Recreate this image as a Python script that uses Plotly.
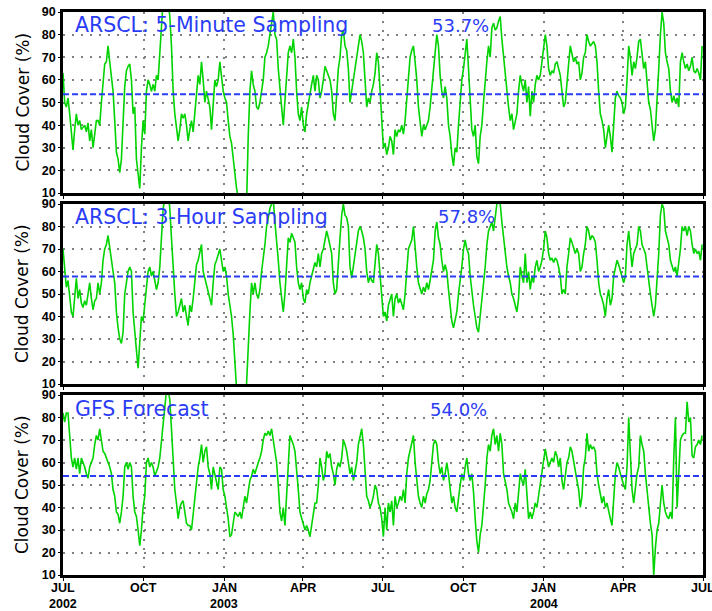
import pandas as pd
import plotly.graph_objects as go

# ---------------- data ----------------
titles = ["ARSCL: 5-Minute Sampling", "ARSCL: 3-Hour Sampling", "GFS Forecast"]
mean_labels = ["53.7%", "57.8%", "54.0%"]
mean_values = [53.7, 57.8, 54.0]

start_date = "2002-07-01"
end_date = "2004-06-30"

arscl_5min = [
    63, 50, 48, 52, 45, 35, 29, 38, 45, 40,
    42, 38, 39, 40, 37, 41, 33, 38, 30, 37,
    42, 42, 40, 50, 60, 67, 68, 75, 68, 62,
    55, 42, 28, 25, 19, 25, 45, 57, 64, 66,
    67, 60, 45, 48, 25, 18, 12, 30, 42, 36,
    55, 60, 58, 55, 58, 55, 62, 60, 72, 85,
    95, 98, 98, 95, 88, 75, 55, 45, 38, 33,
    38, 45, 43, 45, 40, 33, 38, 42, 37, 45,
    55, 62, 58, 68, 60, 50, 55, 52, 48, 38,
    50, 60, 57, 60, 68, 60, 55, 52, 50, 42,
    35, 32, 25, 18, 12, 8, 5, 5, 5, 5,
    5, 35, 55, 64, 58, 55, 48, 47, 50, 55,
    60, 70, 72, 75, 80, 85, 90, 80, 78, 65,
    55, 48, 40, 50, 60, 72, 75, 72, 78, 70,
    55, 45, 42, 48, 40, 37, 45, 50, 55, 58,
    62, 55, 62, 60, 52, 55, 60, 66, 64, 62,
    60, 55, 45, 42, 55, 65, 70, 80, 82, 75,
    73, 65,
    50, 55, 60, 65, 70, 75, 80, 77, 72, 60,
    48, 52, 50, 55, 58, 63, 72, 68, 55, 42,
    30, 32, 27, 30, 35, 33, 27, 38, 35, 38,
    37, 40, 36, 42, 52, 60, 70, 73, 75, 68,
    60, 48, 42, 35, 40, 38, 40, 42, 48, 57,
    65, 75, 80, 75, 62, 55, 52, 57, 52, 40,
    35, 27, 22, 30, 28, 40, 50, 60, 65, 72,
    78, 65, 50, 38, 35, 40, 26, 23, 35, 40,
    50, 60, 68, 75, 70, 83, 85, 82, 83, 86,
    88, 78, 70, 65, 55, 48, 42, 45, 38, 42,
    45, 55, 62, 58, 55, 60, 50, 57, 44, 55,
    50, 58, 62, 60, 62, 68, 75, 80, 75, 65,
    62, 64, 63, 67, 68, 65, 62, 55, 48, 50,
    60, 67, 75, 72, 68, 70, 67, 68, 60, 63,
    70, 72, 80, 77, 75, 76, 77, 75, 68, 55,
    45, 42, 38, 30, 35, 40, 35, 28, 40, 52,
    55, 53, 52, 50, 45, 48, 60, 75, 70, 62,
    68, 65, 70, 77, 78, 72, 65, 68, 60, 50,
    47, 40, 33, 38, 50, 65, 80, 90, 85, 72,
    68, 65, 55, 50, 53, 50, 52, 48, 68, 72,
    68, 65, 67, 64, 66, 70, 64, 63, 65, 63,
    60, 75,
]

arscl_3hr = [
    70, 62, 53, 56, 50, 42, 40, 50, 57, 48,
    52, 46, 44, 47, 45, 50, 55, 48, 43, 47,
    48, 55, 50, 55, 65, 70, 72, 76, 70, 66,
    60, 55, 42, 35, 30, 28, 33, 50, 55, 60,
    62, 60, 42, 35, 25, 17, 30, 40, 38, 45,
    55, 60, 62, 58, 60, 55, 52, 55, 62, 75,
    88, 92, 96, 96, 88, 75, 60, 50, 40, 42,
    45, 48, 42, 45, 40, 36, 45, 42, 48, 55,
    63, 65, 68, 72, 60, 57, 55, 52, 48, 45,
    55, 63, 65, 68, 70, 65, 60, 62, 58, 50,
    45, 40, 32, 20, 8, 5, 5, 5, 5, 5,
    10, 30, 42, 55, 50, 55, 50, 48, 52, 60,
    65, 72, 80, 85, 88, 90, 92, 82, 75, 65,
    55, 48, 42, 50, 65, 75, 73, 77, 75, 73,
    62, 55, 52, 55, 48, 46, 52, 50, 55, 58,
    62, 64, 62, 68, 62, 68, 70, 75, 78, 75,
    72, 68, 55, 50, 52, 65, 75, 85, 90, 85,
    84, 80,
    62, 57, 62, 67, 73, 78, 80, 78, 75, 70,
    60, 55, 58, 56, 55, 63, 72, 68, 58, 50,
    40, 42, 38, 45, 48, 50, 40, 48, 50, 46,
    48, 45, 43, 50, 60, 70, 72, 74, 80, 70,
    62, 55, 52, 50, 53, 51, 55, 52, 56, 60,
    65, 78, 82, 75, 72, 65, 60, 63, 60, 52,
    45, 38, 35, 38, 42, 50, 55, 62, 70, 74,
    70, 68, 58, 50, 45, 40, 35, 33, 40, 48,
    55, 62, 72, 78, 80, 82, 78, 85, 90, 92,
    90, 82, 75, 70, 62, 58, 55, 50, 48, 45,
    42, 48, 62, 58, 55, 68, 55, 60, 52, 58,
    55, 62, 65, 60, 62, 65, 70, 78, 75, 68,
    65, 66, 64, 66, 65, 62, 58, 50, 52, 50,
    62, 68, 75, 73, 70, 68, 70, 68, 60, 62,
    68, 72, 80, 78, 74, 76, 75, 73, 65, 55,
    50, 48, 45, 40, 48, 52, 45, 48, 58, 62,
    65, 63, 60, 58, 55, 58, 72, 78, 70, 62,
    68, 70, 72, 80, 78, 72, 70, 68, 62, 55,
    50, 45, 40, 45, 55, 68, 85, 90, 88, 78,
    75, 72, 65, 62, 60, 62, 58, 64, 70, 80,
    78, 80, 76, 80, 78, 72, 68, 70, 68, 69,
    65, 72,
]

gfs_forecast = [
    82, 78, 82, 82, 72, 62, 58, 62, 57, 62,
    55, 62, 60, 58, 55, 53, 58, 60, 62, 68,
    72, 70, 75, 70, 65, 64, 62, 60, 58, 55,
    48, 45, 38, 37, 33, 38, 45, 58, 60, 57,
    60, 58, 45, 38, 36, 30, 23, 30, 40, 45,
    60, 62, 58, 60, 58, 54, 56, 58, 62, 70,
    78, 85, 92, 92, 88, 75, 60, 48, 42, 35,
    40, 42, 43, 38, 33, 32, 32, 30, 37, 45,
    50, 58, 62, 68, 60, 65, 67, 58, 55, 48,
    58, 55, 52, 48, 58, 57, 48, 45, 40, 35,
    27, 28, 33, 38, 37, 36, 38, 35, 40, 45,
    42, 48, 52, 54, 57, 55, 58, 60, 62, 65,
    70, 73, 72, 74, 72, 75, 70, 65, 60, 50,
    38, 34, 40, 32, 45, 60, 72, 70, 68, 65,
    58, 48, 38, 35, 33, 30, 32, 30, 27, 32,
    35, 42, 42, 50, 62, 58, 52, 55, 65, 62,
    64, 58, 55, 50, 57, 60, 58, 62, 70, 68,
    65, 60,
    55, 58, 52, 56, 60, 68, 72, 75, 68, 58,
    45, 43, 40, 42, 45, 50, 48, 42, 40, 35,
    27, 40, 30, 42, 38, 43, 32, 45, 40, 42,
    45, 43, 48, 42, 55, 62, 65, 68, 72, 60,
    52, 45, 42, 40, 45, 42, 46, 48, 52, 62,
    68, 70, 68, 60, 55, 58, 52, 55, 60, 55,
    48, 42, 45, 40, 38, 45, 50, 55, 52, 58,
    62, 55, 52, 55, 47, 35, 25, 20, 28, 32,
    40, 50, 62, 68, 65, 72, 75, 68, 72, 65,
    73, 68, 55, 52, 48, 42, 40, 38, 35, 42,
    38, 48, 55, 52, 50, 57, 45, 35, 38, 35,
    38, 42, 40, 45, 50, 55, 62, 66, 62, 58,
    60, 62, 60, 65, 63, 58, 62, 52, 48, 55,
    60, 62, 67, 65, 60, 55, 52, 48, 40, 45,
    58, 62, 73, 65, 68, 66, 67, 65, 55, 50,
    45, 42, 45, 40, 42, 38, 35, 32, 45, 55,
    60, 58, 55, 52, 50, 48, 58, 80, 65, 48,
    42, 50, 55, 58, 72, 68, 65, 55, 48, 38,
    33, 28, 10, 22, 30, 33, 42, 50, 42, 38,
    36, 35, 38, 35, 62, 80, 40, 55, 70, 72,
    73, 73, 87, 78, 80, 63, 62, 67, 68, 70,
    68, 72,
]

series = [arscl_5min, arscl_3hr, gfs_forecast]

x_tick_dates = ["2002-07-01", "2002-10-01", "2003-01-01", "2003-04-01", "2003-07-01",
                "2003-10-01", "2004-01-01", "2004-04-01", "2004-07-01"]
x_month_text = ["JUL", "OCT", "JAN", "APR", "JUL", "OCT", "JAN", "APR", "JUL"]
x_year_text = ["2002", "", "2003", "", "", "", "2004", "", ""]
y_ticks = [10, 20, 30, 40, 50, 60, 70, 80, 90]

# ---------------- layout geometry ----------------
W, H = 712, 611
ML, MR, MT, MB = 63, 9, 12, 36
ph = H - MT - MB
panels_px = [(12, 193), (204, 384), (395, 575)]  # top, bottom in px
domains = [[(H - MB - b) / ph, (H - MB - t) / ph] for t, b in panels_px]
domains = [[max(0, d[0]), min(1, d[1])] for d in domains]

GREEN = "#00d400"
BLUE = "#2a3cf5"
TICKFONT = dict(family="Liberation Sans", size=12.5, color="black", weight="bold")

fig = go.Figure()
for i, vals in enumerate(series):
    n = i + 1
    xa = "x" if n == 1 else f"x{n}"
    ya = "y" if n == 1 else f"y{n}"
    dates = pd.date_range(start_date, end_date, periods=len(vals))
    fig.add_trace(go.Scatter(x=dates, y=vals, mode="lines",
                             line=dict(color=GREEN, width=1.6),
                             xaxis=xa, yaxis=ya, showlegend=False,
                             hoverinfo="skip"))
    fig.add_trace(go.Scatter(x=[pd.Timestamp("2002-07-01"), pd.Timestamp("2004-07-01")],
                             y=[mean_values[i]] * 2, mode="lines",
                             line=dict(color=BLUE, width=2, dash="6px,3px"),
                             xaxis=xa, yaxis=ya, showlegend=False,
                             hoverinfo="skip"))

    xkey = "xaxis" if n == 1 else f"xaxis{n}"
    ykey = "yaxis" if n == 1 else f"yaxis{n}"
    fig.layout[xkey] = dict(
        domain=[0, 1], anchor=ya, type="date",
        range=["2002-07-01", "2004-07-01"],
        tickvals=x_tick_dates, showticklabels=False,
        ticks="outside", ticklen=3, tickcolor="black",
        showgrid=True, gridcolor="#808080", gridwidth=1.5, griddash="2px,7px",
        showline=True, linecolor="black", linewidth=2.5, mirror=True,
        zeroline=False, automargin=False, fixedrange=True,
    )
    fig.layout[ykey] = dict(
        domain=domains[i], anchor=xa,
        range=[10, 90], tickvals=y_ticks,
        tickfont=TICKFONT,
        ticks="outside", ticklen=2, tickcolor="black",
        showgrid=True, gridcolor="#808080", gridwidth=1.5, griddash="2px,7px",
        showline=True, linecolor="black", linewidth=2.5, mirror=True,
        zeroline=False, automargin=False, fixedrange=True,
    )

    t_px, b_px = panels_px[i]
    title_cy = [25, 217, 409][i]
    ydom = (b_px - title_cy) / (b_px - t_px)
    fig.add_annotation(text=titles[i], xref=f"{xa} domain", yref=f"{ya} domain",
                       x=(73 - ML) / 640, y=ydom, xanchor="left", yanchor="middle",
                       showarrow=False,
                       font=dict(family="DejaVu Sans", size=20.5, color=BLUE))
    pct_left = [430, 436, 428][i]
    fig.add_annotation(text=mean_labels[i], xref=f"{xa} domain", yref=f"{ya} domain",
                       x=(pct_left - ML) / 640, y=ydom, xanchor="left", yanchor="middle",
                       showarrow=False,
                       font=dict(family="DejaVu Sans", size=18, color=BLUE))
    fig.add_annotation(text="Cloud Cover (%)", xref="paper", yref=f"{ya} domain",
                       x=(22 - ML) / 640, y=0.5, xanchor="center", yanchor="middle",
                       textangle=-90, showarrow=False,
                       font=dict(family="DejaVu Sans", size=17, color="black"))

# x tick labels for the bottom panel (month + year lines), placed on the x3 scale
for d, m, yr in zip(x_tick_dates, x_month_text, x_year_text):
    fig.add_annotation(text=m, xref="x3", yref="paper", x=d,
                       y=-(588 - (H - MB)) / ph, xanchor="center", yanchor="middle",
                       showarrow=False, font=TICKFONT)
    if yr:
        fig.add_annotation(text=yr, xref="x3", yref="paper", x=d,
                           y=-(604 - (H - MB)) / ph, xanchor="center", yanchor="middle",
                           showarrow=False, font=TICKFONT)

fig.update_layout(
    width=W, height=H,
    margin=dict(l=ML, r=MR, t=MT, b=MB, pad=0),
    paper_bgcolor="white", plot_bgcolor="white",
    showlegend=False,
)

fig.write_html("out.html", config={"displayModeBar": False})
